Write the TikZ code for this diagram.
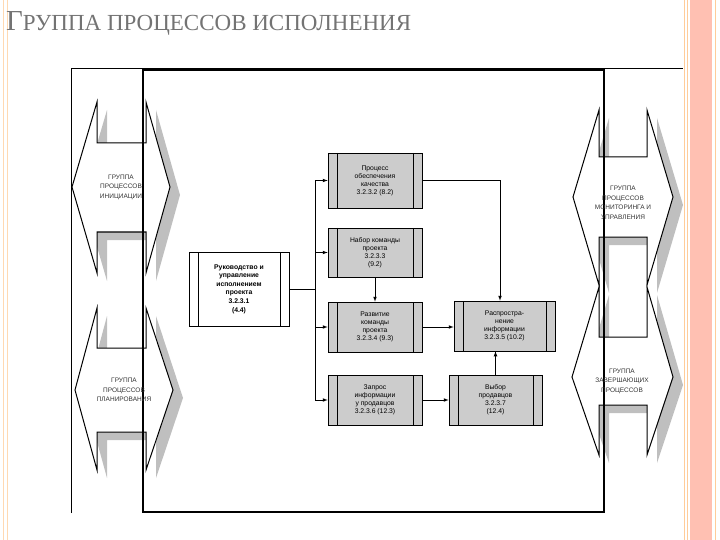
\documentclass[tikz,border=0pt]{standalone}
\usepackage{fontspec}
\setmainfont{Liberation Serif}
\newfontfamily\sfx{Liberation Sans}
\newcommand\mkgrp[9]{%
  \fill[shd,shift={(10,8)}] (#3,#5)--(#3,#6)--(#4,#6)--(#4,#5)--(#2,#7)--(#4,#9)--(#4,#8)--(#3,#8)--(#3,#9)--(#1,#7)--cycle;
  \draw[hex] (#3,#5)--(#3,#6)--(#4,#6)--(#4,#5)--(#2,#7)--(#4,#9)--(#4,#8)--(#3,#8)--(#3,#9)--(#1,#7)--cycle;}
\begin{document}
\begin{tikzpicture}[x=1pt,y=-1pt,
  box/.style={draw,fill=gray!40,line width=0.7pt,align=center,font=\sfx\fontsize{6.8}{8}\selectfont,inner sep=0pt,
    path picture={\draw ([xshift=9pt]path picture bounding box.north west)--([xshift=9pt]path picture bounding box.south west);
                  \draw ([xshift=-9pt]path picture bounding box.north east)--([xshift=-9pt]path picture bounding box.south east);}},
  grp/.style={font=\sfx\fontsize{6.5}{9.5}\selectfont,align=center,text=black!80},
  hex/.style={draw=black,fill=white,line width=1pt},
  shd/.style={fill=gray!50,draw=none},
  arr/.style={-latex,line width=0.7pt}]
\useasboundingbox (0,0) rectangle (720,540);
% slide decoration
\draw[orange!30,line width=0.6pt] (3,0)--(3,540) (7,0)--(7,540);
\fill[orange!35!red!30] (690,0) rectangle (712,540);
\draw[orange!40,line width=0.6pt] (684,0)--(684,540) (687,0)--(687,540) (715,0)--(715,540);
\node[anchor=base west,inner sep=0,text=black!55] (title) at (6,31) {\fontsize{29}{29}\selectfont Г\fontsize{23}{23}\selectfont РУППА ПРОЦЕССОВ ИСПОЛНЕНИЯ};
% frames
\draw[line width=0.6pt] (71,513)--(71,68)--(683,68);
\draw[line width=2.2pt] (143,70) rectangle (604,512);
% group shapes
\mkgrp{72}{170}{97}{146}{102}{143}{187}{232}{273}
\mkgrp{75}{173}{97}{146}{308}{348}{390}{432}{470}
\mkgrp{573}{673}{599}{647}{110}{157}{197}{237}{285}
\mkgrp{572}{673}{599}{647}{287}{337}{377}{405}{455}
\draw[line width=2.2pt] (143,70)--(143,512) (604,70)--(604,512);
\node[grp] (g1) at (121,187) {ГРУППА\\ПРОЦЕССОВ\\ИНИЦИАЦИИ};
\node[grp] (g2) at (124,390) {ГРУППА\\ПРОЦЕССОВ\\ПЛАНИРОВАНИЯ};
\node[grp] (g3) at (623,203) {ГРУППА\\ПРОЦЕССОВ\\МОНИТОРИНГА И\\УПРАВЛЕНИЯ};
\node[grp] (g4) at (622,381) {ГРУППА\\ЗАВЕРШАЮЩИХ\\ПРОЦЕССОВ};
% boxes
\node[box,fill=white,minimum width=100pt,minimum height=74pt,font=\sfx\bfseries\fontsize{6.8}{8.6}\selectfont] (main) at (239,289) {Руководство и\\управление\\исполнением\\проекта\\3.2.3.1\\(4.4)};
\node[box,minimum width=94pt,minimum height=55pt] (q) at (375,180.5) {Процесс\\обеспечения\\качества\\3.2.3.2 (8.2)};
\node[box,minimum width=94pt,minimum height=49pt] (a) at (375,252.5) {Набор команды\\проекта\\3.2.3.3\\(9.2)};
\node[box,minimum width=94pt,minimum height=50pt] (d) at (375,327) {Развитие\\команды\\проекта\\3.2.3.4 (9.3)};
\node[box,minimum width=94pt,minimum height=50pt] (r) at (375,400) {Запрос\\информации\\у продавцов\\3.2.3.6 (12.3)};
\node[box,minimum width=101pt,minimum height=50pt] (s) at (504.5,326) {Распростра-\\нение\\информации\\3.2.3.5 (10.2)};
\node[box,minimum width=93pt,minimum height=50pt] (v) at (495.5,400) {Выбор\\продавцов\\3.2.3.7\\(12.4)};
% connectors
\coordinate (bus) at (315,289);
\draw[line width=0.7pt] (main.east)--(bus);
\draw[line width=0.7pt] (315,180.5)--(315,400);
\foreach \n in {q,a,d,r} \draw[arr] (bus |- \n.west)--(\n.west);
\draw[arr] (q.east)-|(s.north -| 500,0);
\draw[arr] (a.south)--(d.north);
\draw[arr] (d.east)--(d.east -| s.west);
\draw[arr] (r.east)--(v.west);
\draw[arr] (v.north)--(v.north |- s.south);
\end{tikzpicture}
\end{document}
